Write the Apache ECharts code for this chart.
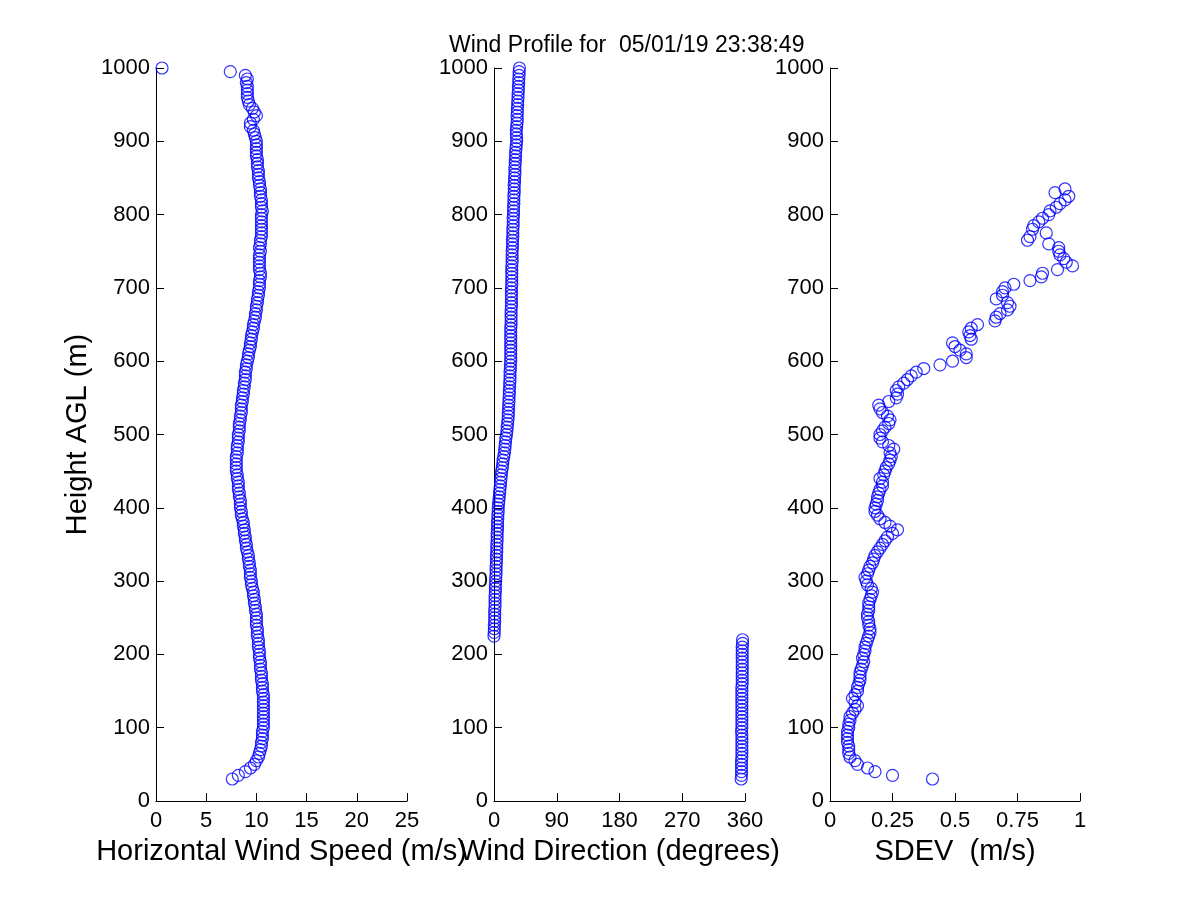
<html>
<head>
    <meta http-equiv="Content-Type" content="text/html; charset=utf-8" />
    <script type="text/javascript" src="https://cdn.jsdelivr.net/npm/echarts/dist/echarts.min.js"></script>
    <style>
        body {
            margin: 0;
            background-color: #FFFFFF;
        }

        #main {
            width: 1200px;
            height: 900px;
        }
    </style>
    <title>Wind Profile</title>
</head>
<body>
    <div id="main"></div>
    <script type="text/javascript">

        //heights of the range gates (m)
        var heights = [
            30, 35, 40, 45, 50, 55, 60, 65, 70, 75,
            80, 85, 90, 95, 100, 105, 110, 115, 120, 125,
            130, 135, 140, 145, 150, 155, 160, 165, 170, 175,
            180, 185, 190, 195, 200, 205, 210, 215, 220, 225,
            230, 235, 240, 245, 250, 255, 260, 265, 270, 275,
            280, 285, 290, 295, 300, 305, 310, 315, 320, 325,
            330, 335, 340, 345, 350, 355, 360, 365, 370, 375,
            380, 385, 390, 395, 400, 405, 410, 415, 420, 425,
            430, 435, 440, 445, 450, 455, 460, 465, 470, 475,
            480, 485, 490, 495, 500, 505, 510, 515, 520, 525,
            530, 535, 540, 545, 550, 555, 560, 565, 570, 575,
            580, 585, 590, 595, 600, 605, 610, 615, 620, 625,
            630, 635, 640, 645, 650, 655, 660, 665, 670, 675,
            680, 685, 690, 695, 700, 705, 710, 715, 720, 725,
            730, 735, 740, 745, 750, 755, 760, 765, 770, 775,
            780, 785, 790, 795, 800, 805, 810, 815, 820, 825,
            830, 835, 840, 845, 850, 855, 860, 865, 870, 875,
            880, 885, 890, 895, 900, 905, 910, 915, 920, 925,
            930, 935, 940, 945, 950, 955, 960, 965, 970, 975,
            980, 985, 990, 995, 1000
        ];

        //horizontal wind speed (m/s)
        var speed = [
            7.6, 8.2, 8.9, 9.4, 9.8, 10.0, 10.2, 10.3, 10.4, 10.5,
            10.5, 10.6, 10.6, 10.6, 10.7, 10.7, 10.7, 10.7, 10.7, 10.7,
            10.7, 10.7, 10.7, 10.7, 10.6, 10.6, 10.6, 10.5, 10.5, 10.5,
            10.4, 10.4, 10.4, 10.3, 10.3, 10.3, 10.2, 10.2, 10.2, 10.1,
            10.1, 10.1, 10.0, 10.0, 10.0, 10.0, 9.9, 9.9, 9.8, 9.8,
            9.7, 9.7, 9.6, 9.5, 9.5, 9.4, 9.4, 9.4, 9.3, 9.3,
            9.2, 9.2, 9.1, 9.0, 9.0, 8.9, 8.9, 8.8, 8.8, 8.7,
            8.7, 8.6, 8.5, 8.5, 8.4, 8.4, 8.4, 8.3, 8.3, 8.2,
            8.2, 8.2, 8.1, 8.1, 8.0, 8.0, 8.0, 8.0, 8.0, 8.1,
            8.1, 8.1, 8.2, 8.2, 8.2, 8.3, 8.3, 8.3, 8.4, 8.4,
            8.5, 8.5, 8.5, 8.6, 8.6, 8.7, 8.7, 8.8, 8.8, 8.9,
            8.9, 8.9, 9.0, 9.0, 9.1, 9.2, 9.2, 9.3, 9.4, 9.4,
            9.5, 9.5, 9.6, 9.7, 9.7, 9.8, 9.9, 9.9, 10.0, 10.0,
            10.1, 10.1, 10.2, 10.2, 10.3, 10.3, 10.3, 10.4, 10.4, 10.3,
            10.3, 10.3, 10.3, 10.3, 10.4, 10.3, 10.4, 10.4, 10.5, 10.5,
            10.5, 10.5, 10.5, 10.5, 10.5, 10.6, 10.5, 10.5, 10.5, 10.4,
            10.4, 10.4, 10.3, 10.3, 10.2, 10.2, 10.2, 10.1, 10.1, 10.1,
            10.0, 10.0, 10.0, 10.0, 10.0, 9.9, 9.8, 9.7, 9.4, 9.4,
            9.7, 10.0, 9.8, 9.6, 9.3, 9.2, 9.1, 9.1, 9.1, 9.1,
            9.0, 9.1, 8.9, 7.4, 0.6
        ];

        //wind direction (degrees)
        var direction = [
            354.5, 355, 355, 355, 355, 355, 355.5, 355.5, 355.5, 355.5,
            355.5, 355.5, 355.5, 355, 355.5, 355.5, 355.5, 355.5, 355.5, 355.5,
            355.5, 355.5, 355.5, 355.5, 355.5, 355.5, 356, 356, 356, 356,
            356, 356, 356, 356, 356, 356, 356, 356.5, 356.5, 0,
            0.3, 0.5, 0.5, 1, 1, 1, 1, 1.5, 1.5, 1.5,
            1.5, 2, 2, 2, 2.5, 2.5, 3, 3, 3, 3.5,
            3.5, 3.5, 4, 4, 4, 4.5, 4.5, 4.5, 5, 5,
            5, 5.5, 5.5, 6, 6, 6.5, 7, 7.5, 8, 8.5,
            9, 9.5, 10, 10.5, 11, 12, 12.5, 13, 14, 15,
            15.5, 16, 16.5, 17, 18, 18.5, 19, 19.5, 20, 20.5,
            20.5, 21, 21, 21.5, 21.5, 22, 22, 22.5, 22.5, 23,
            23, 23, 23.5, 23.5, 24, 24, 24, 24, 24, 24,
            24, 24, 24, 24, 24.5, 24.5, 24.5, 24.5, 24.5, 25,
            25, 25, 25, 25, 25, 25.5, 25.5, 25.5, 25.5, 25.5,
            25.5, 26, 26, 26, 26, 26.5, 26.5, 26.5, 27, 27,
            27, 27.5, 27.5, 27.5, 28, 28, 28, 28.5, 28.5, 28.5,
            29, 29, 29, 29.5, 29.5, 30, 30, 30, 30.5, 30.5,
            31, 31, 31.5, 32, 32.5, 32.5, 32, 32, 32.5, 33,
            33.5, 33, 33.5, 33.5, 34, 34, 34.5, 34.5, 35, 35,
            35.5, 35.5, 36, 36, 36.5
        ];

        //standard deviation (m/s), gates 30 .. 835 m
        var sdev = [
            0.41, 0.25, 0.18, 0.15, 0.11, 0.10, 0.08, 0.075, 0.075, 0.075,
            0.07, 0.07, 0.07, 0.07, 0.075, 0.075, 0.08, 0.08, 0.09, 0.10,
            0.11, 0.10, 0.09, 0.10, 0.11, 0.11, 0.115, 0.12, 0.12, 0.12,
            0.125, 0.13, 0.135, 0.13, 0.135, 0.14, 0.14, 0.145, 0.15, 0.155,
            0.16, 0.16, 0.155, 0.155, 0.15, 0.15, 0.155, 0.155, 0.155, 0.16,
            0.165, 0.17, 0.165, 0.15, 0.145, 0.14, 0.15, 0.155, 0.16, 0.17,
            0.175, 0.18, 0.19, 0.20, 0.21, 0.22, 0.23, 0.25, 0.27, 0.24,
            0.22, 0.20, 0.19, 0.18, 0.18, 0.185, 0.19, 0.19, 0.195, 0.20,
            0.21, 0.21, 0.20, 0.215, 0.22, 0.225, 0.235, 0.24, 0.245, 0.24,
            0.255, 0.235, 0.21, 0.20, 0.20, 0.21, 0.22, 0.235, 0.24, 0.23,
            0.21, 0.20, 0.195, 0.235, 0.265, 0.27, 0.265, 0.275, 0.295, 0.31,
            0.325, 0.345, 0.375, 0.44, 0.49, 0.545, 0.545, 0.52, 0.50, 0.49,
            0.565, 0.56, 0.555, 0.565, 0.59, 0.66, 0.665, 0.68, 0.71, 0.72,
            0.71, 0.665, 0.69, 0.69, 0.70, 0.735, 0.80, 0.845, 0.85, 0.91,
            0.97, 0.945, 0.935, 0.92, 0.915, 0.915, 0.875, 0.79, 0.80, 0.865,
            0.81, 0.815, 0.835, 0.85, 0.875, 0.88, 0.905, 0.92, 0.94, 0.955,
            0.90, 0.94
        ];

        //tick labels
        var heightTicks = [0, 100, 200, 300, 400, 500, 600, 700, 800, 900, 1000];
        var speedTicks = [0, 5, 10, 15, 20, 25];
        var directionTicks = [0, 90, 180, 270, 360];
        var sdevTicks = [0, 0.25, 0.5, 0.75, 1];

        var fontName = "'Liberation Sans', Arial, Helvetica, sans-serif";

        //pair values with heights
        function pairs(values) {
            var out = [];
            for (var i = 0; i < values.length; i++) {
                out.push([values[i], heights[i]]);
            }
            return out;
        }

        //matlab-like axis: left / bottom line only, ticks inside
        function axis(idx, ticks, name, gap, labelMargin) {
            return {
                type: 'value',
                gridIndex: idx,
                min: ticks[0],
                max: ticks[ticks.length - 1],
                interval: ticks[1] - ticks[0],
                name: name,
                nameLocation: 'middle',
                nameGap: gap,
                nameTextStyle: { color: '#000', fontSize: 29, fontFamily: fontName },
                axisLine: { show: true, onZero: false, lineStyle: { color: '#000', width: 1 } },
                axisTick: { show: true, inside: true, length: 8, lineStyle: { color: '#000', width: 1 } },
                axisLabel: {
                    color: '#000', fontSize: 22, fontFamily: fontName, margin: labelMargin,
                    showMinLabel: true, showMaxLabel: true,
                    formatter: function (v) { return String(v); }
                },
                splitLine: { show: false }
            };
        }

        var marker = {
            color: 'transparent',
            borderColor: '#0000FF',
            borderWidth: 1.2
        };

        function series(idx, values) {
            return {
                type: 'scatter',
                xAxisIndex: idx,
                yAxisIndex: idx,
                symbol: 'circle',
                symbolSize: 12,
                itemStyle: marker,
                emphasis: { disabled: true },
                data: pairs(values)
            };
        }

        var option = {
            animation: false,
            backgroundColor: '#FFFFFF',
            title: {
                text: 'Wind Profile for  05/01/19 23:38:49',
                left: 449,
                top: 34,
                padding: 0,
                textStyle: { color: '#000', fontSize: 23, fontWeight: 'normal', fontFamily: fontName }
            },
            grid: [
                { left: 156, top: 68, width: 251, height: 733 },
                { left: 494, top: 68, width: 251, height: 733 },
                { left: 830, top: 68, width: 250, height: 733 }
            ],
            xAxis: [
                axis(0, speedTicks, 'Horizontal Wind Speed (m/s)', 36, 9),
                axis(1, directionTicks, 'Wind Direction (degrees)', 36, 9),
                axis(2, sdevTicks, 'SDEV  (m/s)', 36, 9)
            ],
            yAxis: [
                axis(0, heightTicks, 'Height AGL (m)', 64, 6),
                axis(1, heightTicks, '', 0, 6),
                axis(2, heightTicks, '', 0, 6)
            ],
            series: [
                series(0, speed),
                series(1, direction),
                series(2, sdev)
            ]
        };

        var myChart = echarts.init(document.getElementById('main'));
        myChart.setOption(option);

    </script>
</body>
</html>
